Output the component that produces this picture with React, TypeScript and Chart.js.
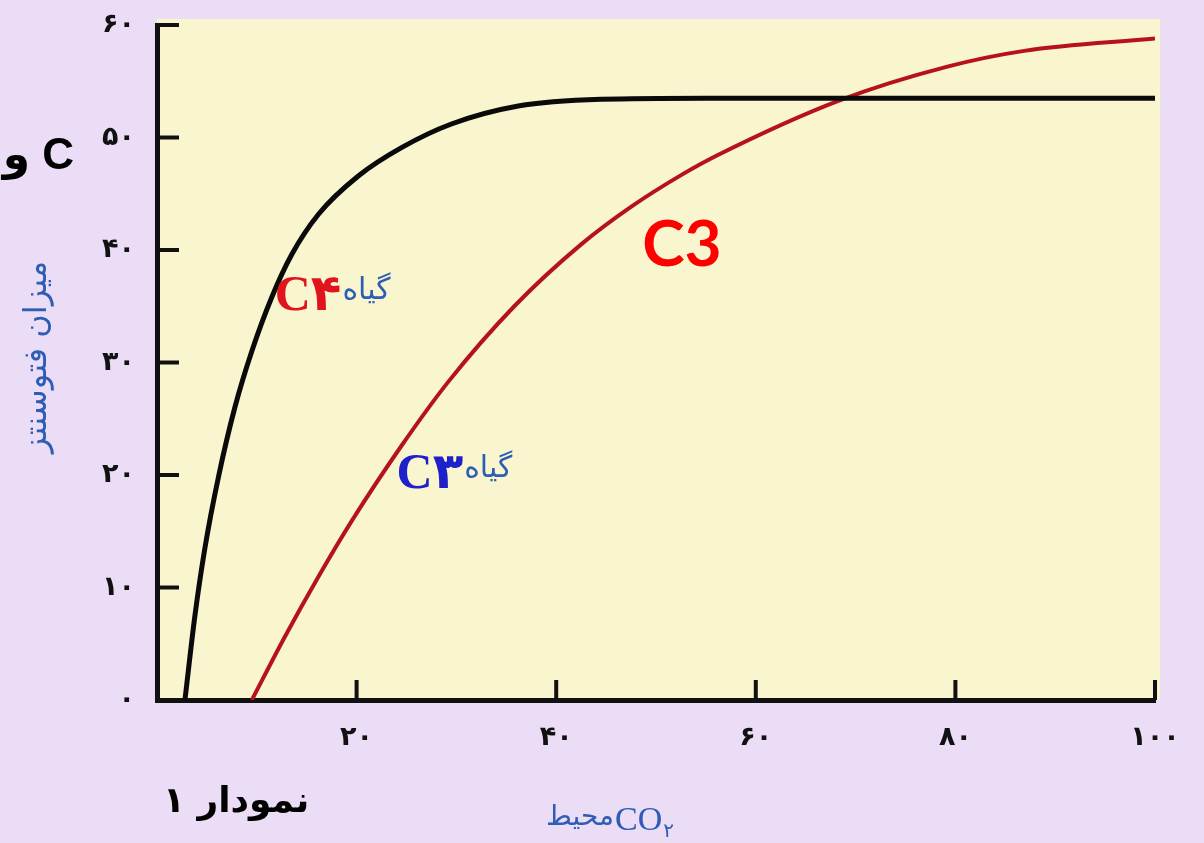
import React, { useEffect, useRef } from "react";
import { Chart, registerables } from "chart.js";

Chart.register(...registerables);

// C4 plant curve (black)
const c4X = [2.8, 3.8, 4.8, 6.2, 7.8, 9.5, 11.5, 13.5, 16.2, 20.2, 24.5, 29.5, 36.2, 44.5, 55, 100];
const c4Y = [0, 7.5, 13.5, 20, 26, 31, 35.8, 39.6, 43.2, 46.6, 49.1, 51.2, 52.8, 53.4, 53.5, 53.5];

// C3 plant curve (red)
const c3X = [9.5, 12.8, 16.2, 19.5, 24.5, 29.2, 35.8, 42.5, 47.6, 52.6, 56.1, 68.4, 79.2, 86.9, 100];
const c3Y = [0, 5.6, 11.0, 15.9, 22.6, 28.3, 35.0, 40.5, 43.9, 46.7, 48.4, 53.3, 56.3, 57.7, 58.8];

const xTicks = [0, 20, 40, 60, 80, 100];
const yTicks = [0, 10, 20, 30, 40, 50, 60];

const yTitle = "میزان فتوسنتز";
const xTitleWord = "محیط";
const xTitleGas = "CO";
const xTitleSub = "۲";
const plantWord = "گیاه";
const c4Name = "C۴";
const c3Name = "C۳";
const bigLabel = "C3";
const figureLabel = "نمودار ۱";
const cutText = "و C";

const FA = "۰۱۲۳۴۵۶۷۸۹";
const toFa = (n: number) => String(n).replace(/\d/g, (d) => FA[+d]);

const LAVENDER = "#EBDDF6";
const PLOT_BG = "#F9F5CE";
const BLUE_TXT = "#2E5DB5";

const decor = {
  id: "decor",
  beforeDraw(chart: any) {
    const { ctx, chartArea: a, width, height } = chart;
    ctx.save();
    ctx.fillStyle = LAVENDER;
    ctx.fillRect(0, 0, width, height);
    ctx.fillStyle = PLOT_BG;
    ctx.fillRect(a.left, a.top - 6, a.right - a.left + 5, a.bottom - a.top + 6);
    ctx.restore();
  },
  afterDraw(chart: any) {
    const { ctx, chartArea: a } = chart;
    const xs = chart.scales.x;
    const ys = chart.scales.y;
    ctx.save();
    // inward tick marks
    ctx.strokeStyle = "#111";
    ctx.lineWidth = 4;
    ys.ticks.forEach((t: any) => {
      if (t.value === 0) return;
      const py = ys.getPixelForValue(t.value);
      ctx.beginPath();
      ctx.moveTo(a.left, py);
      ctx.lineTo(a.left + 22, py);
      ctx.stroke();
    });
    xs.ticks.forEach((t: any) => {
      if (t.value === 0) return;
      const px = xs.getPixelForValue(t.value);
      ctx.beginPath();
      ctx.moveTo(px, a.bottom);
      ctx.lineTo(px, a.bottom - 20);
      ctx.stroke();
    });

    ctx.textBaseline = "middle";

    const plantLabel = (name: string, color: string, vx: number, vy: number) => {
      const px = xs.getPixelForValue(vx);
      const py = ys.getPixelForValue(vy);
      ctx.direction = "ltr";
      ctx.textAlign = "left";
      ctx.font = "bold 50px 'Liberation Serif', 'DejaVu Sans'";
      ctx.fillStyle = color;
      ctx.fillText(name, px, py);
      const w = ctx.measureText(name).width;
      ctx.font = "30px 'DejaVu Sans'";
      ctx.fillStyle = BLUE_TXT;
      ctx.fillText(plantWord, px + w + 1, py - 6);
    };
    plantLabel(c4Name, "#E0141C", 11.8, 35.8);
    plantLabel(c3Name, "#1D22C8", 24.0, 20.0);

    // big C3
    {
      const px = xs.getPixelForValue(52.6);
      const py = ys.getPixelForValue(40.4);
      ctx.textAlign = "center";
      ctx.direction = "ltr";
      ctx.font = "bold 64px Lato, 'Liberation Sans'";
      ctx.fillStyle = "#FF0000";
      ctx.fillText(bigLabel, px, py);
    }
    // cut text at left edge
    ctx.textAlign = "right";
    ctx.direction = "ltr";
    ctx.font = "bold 44px 'Liberation Sans', 'DejaVu Sans'";
    ctx.fillStyle = "#000";
    ctx.fillText(cutText, 74, 157);

    // figure label
    ctx.direction = "rtl";
    ctx.textAlign = "left";
    ctx.font = "bold 36px 'DejaVu Sans'";
    ctx.fillStyle = "#000";
    ctx.fillText(figureLabel, 163, 803);

    // x title
    ctx.direction = "ltr";
    ctx.textAlign = "left";
    ctx.fillStyle = BLUE_TXT;
    ctx.font = "28px 'DejaVu Sans'";
    const x0 = 546;
    ctx.fillText(xTitleWord, x0, 818);
    const w1 = ctx.measureText(xTitleWord).width;
    ctx.font = "34px 'Liberation Serif'";
    ctx.fillText(xTitleGas, x0 + w1 + 1, 821);
    const w2 = ctx.measureText(xTitleGas).width;
    ctx.font = "20px 'DejaVu Sans'";
    ctx.fillText(xTitleSub, x0 + w1 + w2 + 2, 832);

    // y title
    ctx.save();
    ctx.translate(38, 357);
    ctx.rotate(-Math.PI / 2);
    ctx.direction = "rtl";
    ctx.textAlign = "center";
    ctx.font = "32px 'DejaVu Sans'";
    ctx.fillStyle = BLUE_TXT;
    ctx.fillText(yTitle, 0, 0);
    ctx.restore();

    ctx.restore();
  },
};

export default function App() {
  const ref = useRef<HTMLCanvasElement | null>(null);
  useEffect(() => {
    document.body.style.margin = "0";
    const canvas = ref.current;
    if (!canvas) return;
    const chart = new Chart(canvas, {
      type: "line",
      data: {
        datasets: [
          {
            label: "C4",
            data: c4X.map((x, i) => ({ x, y: c4Y[i] })),
            borderColor: "#0A0A0A",
            borderWidth: 5,
            pointRadius: 0,
            cubicInterpolationMode: "monotone",
            fill: false,
          },
          {
            label: "C3",
            data: c3X.map((x, i) => ({ x, y: c3Y[i] })),
            borderColor: "#B5121B",
            borderWidth: 4,
            pointRadius: 0,
            cubicInterpolationMode: "monotone",
            fill: false,
          },
        ],
      },
      options: {
        animation: false,
        responsive: false,
        devicePixelRatio: 1,
        layout: { padding: { top: 25, right: 49, left: 0, bottom: 0 } },
        plugins: { legend: { display: false }, tooltip: { enabled: false } },
        scales: {
          x: {
            type: "linear",
            min: 0,
            max: 100,
            afterBuildTicks: (s: any) => {
              s.ticks = xTicks.map((v) => ({ value: v }));
            },
            afterFit: (s: any) => {
              s.height = 143;
              s.paddingLeft = 0;
              s.paddingRight = 0;
            },
            grid: { display: false, drawTicks: false },
            border: { display: true, color: "#111", width: 5 },
            ticks: {
              padding: 22,
              color: "#111",
              font: { family: "'DejaVu Sans'", size: 27, weight: "bold" },
              maxRotation: 0,
              callback: (v: any) => (v === 0 ? "" : toFa(v)),
            },
          },
          y: {
            type: "linear",
            min: 0,
            max: 60,
            afterBuildTicks: (s: any) => {
              s.ticks = yTicks.map((v) => ({ value: v }));
            },
            afterFit: (s: any) => {
              s.width = 157;
              s.paddingTop = 0;
              s.paddingBottom = 0;
            },
            grid: { display: false, drawTicks: false },
            border: { display: true, color: "#111", width: 5 },
            ticks: {
              padding: 22,
              color: "#111",
              font: { family: "'DejaVu Sans'", size: 27, weight: "bold" },
              callback: (v: any) => toFa(v),
            },
          },
        },
      },
      plugins: [decor],
    } as any);
    return () => chart.destroy();
  }, []);
  return (
    <div style={{ width: 1204, height: 843 }}>
      <canvas ref={ref} width={1204} height={843} style={{ display: "block" }} />
    </div>
  );
}
